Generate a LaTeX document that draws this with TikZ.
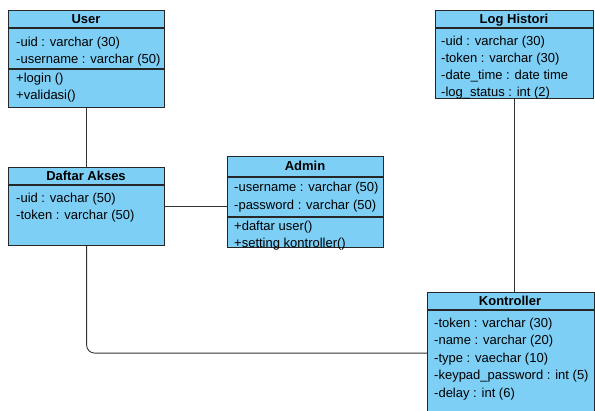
\documentclass[tikz,border=0pt]{standalone}
\usepackage{fontspec}
\setmainfont{Liberation Sans}
\definecolor{classfill}{RGB}{126,207,245}
\definecolor{edgegray}{RGB}{51,51,51}
\tikzset{
  classbox/.style={draw=black!85, fill=classfill, line width=1.2pt, inner sep=0pt, anchor=north west},
  classline/.style={draw=black!85, line width=1.2pt},
  classname/.style={font=\fontsize{13}{15}\selectfont\bfseries, inner sep=0pt, text height=10.5pt, text depth=1.5pt},
  member/.style={font=\fontsize{13}{15}\selectfont, anchor=west, inner sep=0pt, text height=11pt, text depth=2.5pt},
  link/.style={draw=edgegray, line width=0.9pt},
}
\begin{document}
\begin{tikzpicture}[x=1pt,y=-1pt]
\useasboundingbox (0,0) rectangle (595,411);
% User
\node[classbox, minimum width=156pt, minimum height=97pt] (user) at (8,10) {};
\draw[classline] (8,28) -- (164,28);
\draw[classline] (8,69) -- (164,69);
\node[classname] (user-name) at (86,19) {User};
\node[member] (user-uid) at (16,42) {-uid : varchar (30)};
\node[member] (user-username) at (16,59) {-username : varchar (50)};
\node[member] (user-login) at (16,78) {+login ()};
\node[member] (user-validasi) at (16,95) {+validasi()};
% Log Histori
\node[classbox, minimum width=158pt, minimum height=88pt] (log) at (435,10) {};
\draw[classline] (435,28) -- (593,28);
\node[classname] (log-name) at (514,19) {Log Histori};
\node[member] (log-uid) at (441,41) {-uid : varchar (30)};
\node[member] (log-token) at (441,58) {-token : varchar (30)};
\node[member] (log-datetime) at (441,75) {-date\_time : date time};
\node[member] (log-status) at (441,92) {-log\_status : int (2)};
% Daftar Akses
\node[classbox, minimum width=156pt, minimum height=78pt] (daftar) at (8,167) {};
\draw[classline] (8,185) -- (164,185);
\node[classname] (daftar-name) at (86,176) {Daftar Akses};
\node[member] (daftar-uid) at (16,198) {-uid : vachar (50)};
\node[member] (daftar-token) at (16,215) {-token : varchar (50)};
% Admin
\node[classbox, minimum width=156pt, minimum height=91pt] (admin) at (227,156) {};
\draw[classline] (227,177) -- (383,177);
\draw[classline] (227,217) -- (383,217);
\node[classname] (admin-name) at (305,166) {Admin};
\node[member] (admin-username) at (234,187) {-username : varchar (50)};
\node[member] (admin-password) at (234,205) {-password : varchar (50)};
\node[member] (admin-daftar) at (234,226) {+daftar user()};
\node[member] (admin-setting) at (234,243) {+setting kontroller()};
% Kontroller
\node[classbox, minimum width=167pt, minimum height=121pt] (kontroller) at (427,292) {};
\draw[classline] (427,310) -- (594,310);
\node[classname] (kontroller-name) at (510,301) {Kontroller};
\node[member] (kontroller-token) at (434,323) {-token : varchar (30)};
\node[member] (kontroller-name2) at (434,340.5) {-name : varchar (20)};
\node[member] (kontroller-type) at (434,358) {-type : vaechar (10)};
\node[member] (kontroller-keypad) at (434,375.5) {-keypad\_password : int (5)};
\node[member] (kontroller-delay) at (434,393) {-delay : int (6)};
% connectors
\draw[link] (user.south) -- (daftar.north);
\draw[link] (daftar.east) -- (admin.west |- daftar.east);
\draw[link] (log.south) -- (log.south |- kontroller.north);
\draw[link, rounded corners=8pt] (daftar.south) |- (kontroller.west);
\end{tikzpicture}
\end{document}
